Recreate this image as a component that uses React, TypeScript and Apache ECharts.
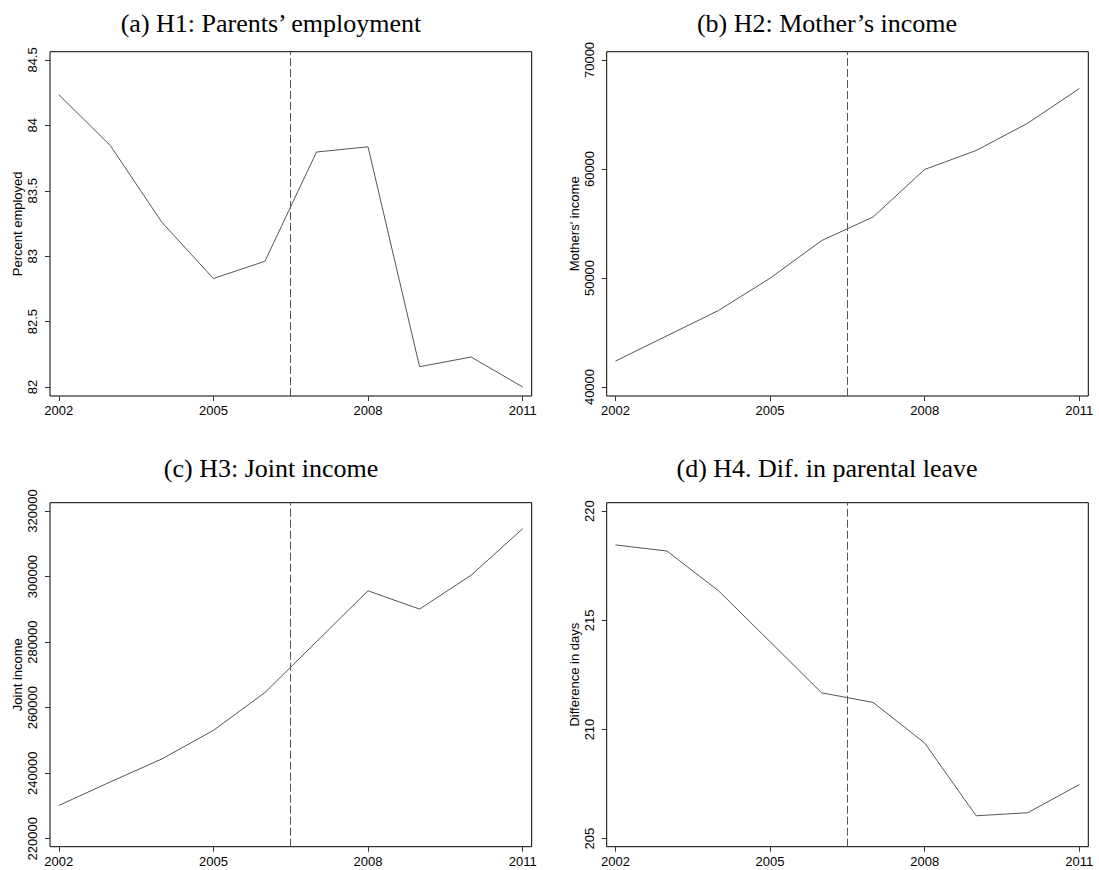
import React, { useEffect, useRef } from "react";
import * as echarts from "echarts";

const years = [2002, 2003, 2004, 2005, 2006, 2007, 2008, 2009, 2010, 2011];
const employment = [84.235, 83.846, 83.259, 82.829, 82.961, 83.796, 83.836, 82.155, 82.229, 82.0];
const motherIncome = [42380, 44700, 47020, 49980, 53430, 55600, 59960, 61700, 64200, 67380];
const jointIncome = [230140, 237340, 244340, 253060, 264620, 280140, 295660, 290080, 300430, 314620];
const leaveDiff = [218.45, 218.17, 216.35, 214.02, 211.68, 211.24, 209.38, 206.05, 206.19, 207.48];

const xTicks = [2002, 2005, 2008, 2011];
const employmentTicks = [82, 82.5, 83, 83.5, 84, 84.5];
const motherTicks = [40000, 50000, 60000, 70000];
const jointTicks = [220000, 240000, 260000, 280000, 300000, 320000];
const leaveTicks = [205, 210, 215, 220];

const titles = [
  "(a) H1: Parents\u2019 employment",
  "(b) H2: Mother\u2019s income",
  "(c) H3: Joint income",
  "(d) H4. Dif. in parental leave",
];
const yNames = ["Percent employed", "Mothers' income", "Joint income", "Difference in days"];
const reformYear = 2006.5;

const panels = [
  { values: employment, ticks: employmentTicks, min: 81.931, max: 84.563 },
  { values: motherIncome, ticks: motherTicks, min: 39176, max: 70760 },
  { values: jointIncome, ticks: jointTicks, min: 217565, max: 322556 },
  { values: leaveDiff, ticks: leaveTicks, min: 204.635, max: 220.384 },
];

const gridPos = [
  { left: 50, top: 51.7, width: 481.7, height: 344.3 },
  { left: 606.7, top: 51.7, width: 481.6, height: 344.3 },
  { left: 50, top: 502.7, width: 481.7, height: 344 },
  { left: 606.7, top: 502.7, width: 481.6, height: 344 },
];
const titlePos = [
  { x: 271, y: 23 },
  { x: 827, y: 23 },
  { x: 271, y: 468 },
  { x: 827, y: 468 },
];

const SANS = '"Liberation Sans", Arial, sans-serif';
const SERIF = '"Liberation Serif", "Times New Roman", serif';

export default function App() {
  const ref = useRef<HTMLDivElement>(null);
  useEffect(() => {
    if (!ref.current) return;
    const chart = echarts.init(ref.current, null, { renderer: "svg" });
    const option: any = {
      animation: false,
      backgroundColor: "#fff",
      grid: gridPos.map((g) => ({
        ...g,
        show: true,
        borderColor: "#000",
        borderWidth: 1,
        backgroundColor: "transparent",
        containLabel: false,
      })),
      xAxis: panels.map((_, i) => ({
        type: "value",
        gridIndex: i,
        min: 2001.83,
        max: 2011.175,
        axisLine: { show: false },
        splitLine: { show: false },
        axisTick: {
          show: true,
          customValues: xTicks,
          length: 5,
          lineStyle: { color: "#333", width: 1 },
        },
        axisLabel: {
          customValues: xTicks,
          margin: 8,
          fontSize: 13,
          fontFamily: SANS,
          color: "#000",
          formatter: (v: number) => String(v),
        },
      })),
      yAxis: panels.map((p, i) => ({
        type: "value",
        gridIndex: i,
        min: p.min,
        max: p.max,
        name: yNames[i],
        nameLocation: "middle",
        nameGap: 26,
        nameRotate: 90,
        nameTextStyle: { fontSize: 13, fontFamily: SANS, color: "#000" },
        axisLine: { show: false },
        splitLine: { show: false },
        axisTick: {
          show: true,
          customValues: p.ticks,
          length: 5,
          lineStyle: { color: "#333", width: 1 },
        },
        axisLabel: {
          customValues: p.ticks,
          rotate: 90,
          margin: 11,
          fontSize: 13,
          fontFamily: SANS,
          color: "#000",
          formatter: (v: number) => String(v),
        },
      })),
      series: panels.map((p, i) => ({
        type: "line",
        xAxisIndex: i,
        yAxisIndex: i,
        data: years.map((y, j) => [y, p.values[j]]),
        showSymbol: false,
        symbol: "none",
        lineStyle: { color: "#555", width: 1 },
        markLine: {
          silent: true,
          symbol: ["none", "none"],
          label: { show: false },
          lineStyle: { color: "#555", width: 1, type: [8, 3] },
          data: [{ xAxis: reformYear }],
        },
      })),
      graphic: titles.map((t, i) => ({
        type: "text",
        x: titlePos[i].x,
        y: titlePos[i].y,
        style: {
          text: t,
          fontSize: 26,
          fontFamily: SERIF,
          fill: "#000",
          align: "center",
          verticalAlign: "middle",
        },
      })),
    };
    chart.setOption(option);
    return () => chart.dispose();
  }, []);
  return (
    <div
      ref={ref}
      style={{ position: "absolute", left: 0, top: 0, width: 1099, height: 870, background: "#fff" }}
    />
  );
}
